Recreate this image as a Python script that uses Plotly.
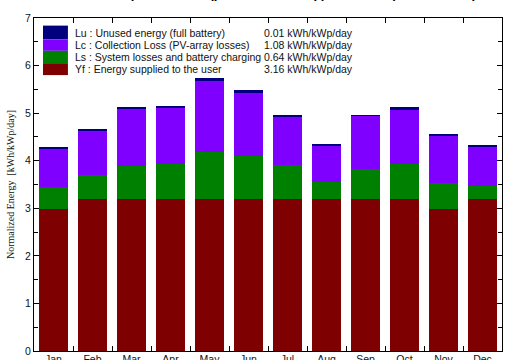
import plotly.graph_objects as go

months = ["Jan", "Feb", "Mar", "Apr", "May", "Jun", "Jul", "Aug", "Sep", "Oct", "Nov", "Dec"]
yf = [2.98, 3.19, 3.19, 3.19, 3.19, 3.19, 3.19, 3.19, 3.19, 3.19, 2.99, 3.19]
ls = [0.47, 0.51, 0.70, 0.74, 1.00, 0.91, 0.71, 0.37, 0.63, 0.74, 0.55, 0.28]
lc = [0.80, 0.94, 1.20, 1.18, 1.48, 1.32, 1.02, 0.75, 1.12, 1.13, 1.00, 0.82]
lu = [0.03, 0.03, 0.03, 0.05, 0.06, 0.07, 0.04, 0.04, 0.02, 0.06, 0.02, 0.04]

legend_labels = ["Lu : Unused energy (full battery)",
                 "Lc : Collection Loss (PV-array losses)",
                 "Ls : System losses and battery charging",
                 "Yf : Energy supplied to the user"]
legend_values = ["0.01 kWh/kWp/day", "1.08 kWh/kWp/day", "0.64 kWh/kWp/day", "3.16 kWh/kWp/day"]
colors = ["#00007f", "#8000ff", "#008000", "#7f0000"]

x = list(range(len(months)))
fig = go.Figure()
for vals, col in zip([yf, ls, lc, lu], colors[::-1]):
    fig.add_trace(go.Bar(x=x, y=vals, marker=dict(color=col, line=dict(width=0)),
                         width=0.74, showlegend=False))

# hand-made legend box (swatch column + two text columns)
band_edges = [6.84, 6.55, 6.31, 6.05, 5.80]
for i, col in enumerate(colors):
    fig.add_shape(type="rect", xref="x", yref="y", x0=-0.27, x1=0.37,
                  y0=band_edges[i + 1], y1=band_edges[i],
                  fillcolor=col, line=dict(width=0))
    ymid = (band_edges[i] + band_edges[i + 1]) / 2
    fig.add_annotation(x=0.5, y=ymid, xref="x", yref="y", text=legend_labels[i],
                       showarrow=False, xanchor="left", yanchor="middle",
                       font=dict(family="Liberation Sans", size=10.5, color="#111"))
    fig.add_annotation(x=5.35, y=ymid, xref="x", yref="y", text=legend_values[i],
                       showarrow=False, xanchor="left", yanchor="middle",
                       font=dict(family="Liberation Sans", size=10.5, color="#111"))

# title mostly cropped off the top of the picture
fig.add_annotation(x=0.5, y=1.045, xref="paper", yref="paper",
                   text="<b>Normalized productions (per installed kWp):  Nominal power 900 Wp</b>",
                   showarrow=False, xanchor="center", yanchor="bottom",
                   font=dict(family="Liberation Sans", size=13, color="#000"))

fig.update_layout(
    width=505, height=360, autosize=False,
    margin=dict(l=34, r=3, t=18, b=9),
    plot_bgcolor="white", paper_bgcolor="white",
    barmode="stack", bargap=0,
    xaxis=dict(range=[-0.5, 11.5], tick0=-0.5, dtick=1, ticks="inside", ticklen=5,
               tickcolor="black", showticklabels=False, showgrid=False, zeroline=False,
               showline=True, linecolor="black", linewidth=1, mirror="ticks",
               automargin=False),
    xaxis2=dict(overlaying="x", side="bottom", range=[-0.5, 11.5], tickvals=x,
                ticktext=months, ticks="", showgrid=False, zeroline=False,
                showline=False, automargin=False,
                tickfont=dict(family="Liberation Sans", size=10.5, color="#111")),
    yaxis=dict(range=[0, 7], dtick=1, ticks="inside", ticklen=5, tickcolor="black",
               minor=dict(dtick=0.5, ticks="inside", ticklen=4, tickcolor="black"),
               showgrid=False, zeroline=False, showline=True, linecolor="black",
               linewidth=1, mirror="ticks", automargin=False,
               tickfont=dict(family="Liberation Sans", size=10.5, color="#111"),
               title=dict(text="Normalized Energy  [kWh/kWp/day]", standoff=8,
                          font=dict(family="Liberation Serif", size=10, color="#111"))),
)
# invisible trace so xaxis2 is drawn
fig.add_trace(go.Scatter(x=[0], y=[0], xaxis="x2", mode="markers",
                         marker=dict(opacity=0), showlegend=False, hoverinfo="skip"))

fig.write_html("out.html", config={"displayModeBar": False},
               post_script="document.body.style.margin='0';")
